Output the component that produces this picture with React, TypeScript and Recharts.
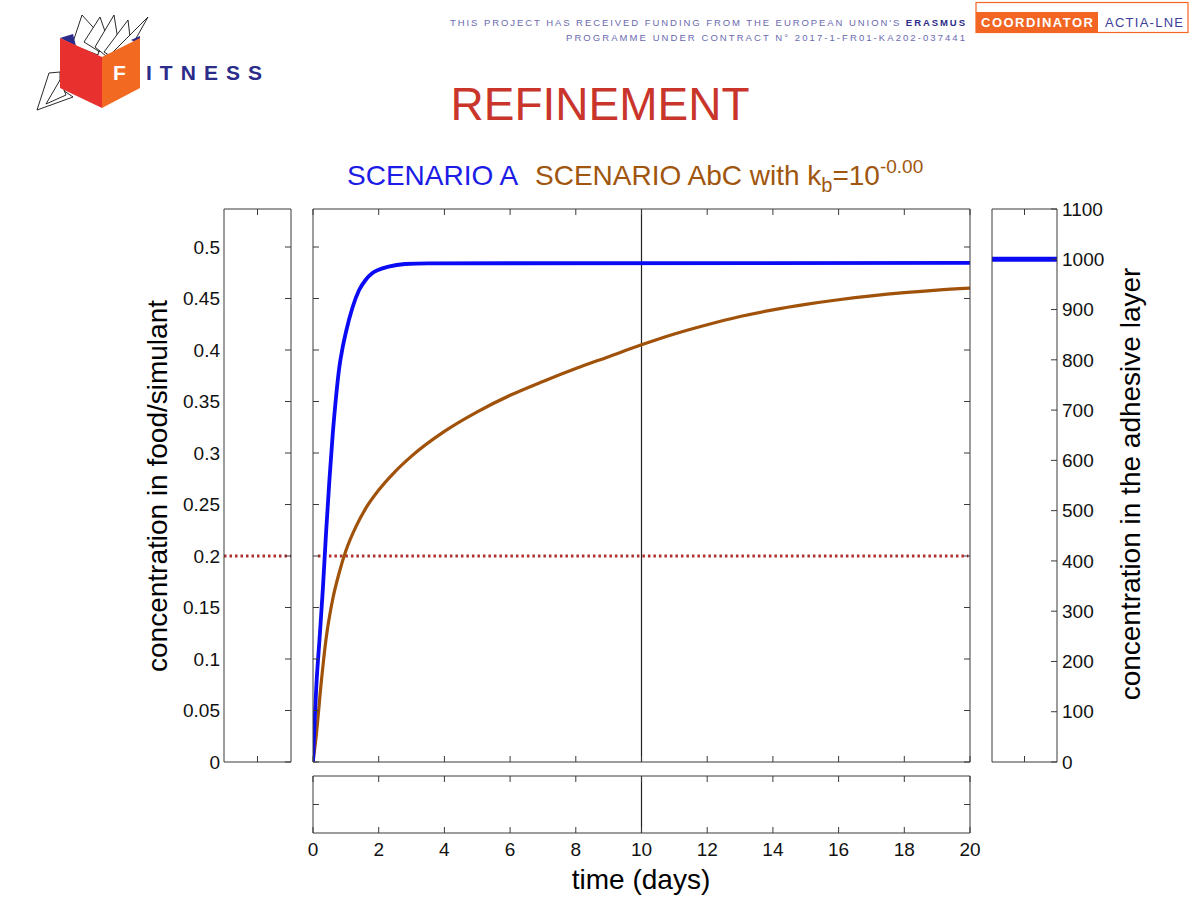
import React from 'react';
import { LineChart, Line, XAxis, YAxis, ReferenceLine } from 'recharts';

const FONT = '"Liberation Sans", Arial, Helvetica, sans-serif';
const FRAME = '#3a3a3a';

// ---- tick labels / axis ranges ----
const timeTicks = [0, 2, 4, 6, 8, 10, 12, 14, 16, 18, 20];
const foodTicks = [0, 0.05, 0.1, 0.15, 0.2, 0.25, 0.3, 0.35, 0.4, 0.45, 0.5];
const layerTicks = [0, 100, 200, 300, 400, 500, 600, 700, 800, 900, 1000, 1100];
const centerTick = [0.5];
const TIME_DOMAIN: [number, number] = [0, 20];
const FOOD_DOMAIN: [number, number] = [0, 0.5369];
const LAYER_DOMAIN: [number, number] = [0, 1100];
const UNIT_DOMAIN: [number, number] = [0, 1];

// ---- values ----
const CUT_TIME = 10;
const THRESHOLD = 0.2;
const LAYER_LEVEL_A = 1000;

// Scenario A (blue)
const timeA = [0, 0.05, 0.1, 0.2, 0.3, 0.4, 0.5, 0.6, 0.7, 0.8, 0.9, 1.0, 1.2, 1.4, 1.6, 1.8, 2.0, 2.3, 2.8, 3.5, 20];
const foodA = [0, 0.04, 0.073, 0.12, 0.168, 0.224, 0.274, 0.318, 0.354, 0.383, 0.402, 0.417, 0.441, 0.458, 0.468, 0.4745, 0.478, 0.481, 0.4835, 0.4842, 0.4845];

// Scenario AbC (brown)
const timeAbC = [0, 0.1, 0.25, 0.4, 0.6, 0.8, 1.0, 1.3, 1.6, 2.0, 2.5, 3.0, 4.0, 5.0, 6.0, 7.0, 8.0, 9.0, 10, 11, 12, 13, 14, 15, 16, 17, 18, 19, 20];
const foodAbC = [0, 0.026, 0.077, 0.12, 0.158, 0.184, 0.205, 0.228, 0.246, 0.264, 0.282, 0.297, 0.321, 0.34, 0.356, 0.3695, 0.382, 0.3935, 0.405, 0.4155, 0.4245, 0.4325, 0.439, 0.4443, 0.4488, 0.4526, 0.4557, 0.4582, 0.46];

const thresholdTimes = [0.15, 19.95];
const panelPositions = [0, 1];

const seriesA = timeA.map((t, i) => ({ t, v: foodA[i] }));
const seriesAbC = timeAbC.map((t, i) => ({ t, v: foodAbC[i] }));
const thresholdMain = thresholdTimes.map((t) => ({ t, v: THRESHOLD }));
const thresholdPanel = panelPositions.map((t) => ({ t, v: THRESHOLD }));
const layerPanel = panelPositions.map((t) => ({ t, v: LAYER_LEVEL_A }));
const emptyTime = TIME_DOMAIN.map((t) => ({ t }));

const tickText = { fontSize: 19, fill: '#111', fontFamily: FONT };
const hiddenText = { fontSize: 1, fill: 'none' };
const blank = () => '';

function frameX(id: string, orientation: 'top' | 'bottom', ticks: number[], domain: [number, number]) {
  return (
    <XAxis
      key={id}
      xAxisId={id}
      dataKey="t"
      orientation={orientation}
      type="number"
      domain={domain}
      ticks={ticks}
      interval={0}
      allowDataOverflow
      mirror
      height={1}
      tick={hiddenText}
      tickFormatter={blank}
      tickSize={6}
      tickLine={{ stroke: FRAME }}
      axisLine={{ stroke: FRAME }}
    />
  );
}

function frameY(id: string, orientation: 'left' | 'right', ticks: number[], domain: [number, number]) {
  return (
    <YAxis
      key={id}
      yAxisId={id}
      orientation={orientation}
      type="number"
      domain={domain}
      ticks={ticks}
      interval={0}
      allowDataOverflow
      mirror
      width={1}
      tick={hiddenText}
      tickFormatter={blank}
      tickSize={6}
      tickLine={{ stroke: FRAME }}
      axisLine={{ stroke: FRAME }}
    />
  );
}

function Slide() {
  return (
    <svg width={1200} height={900} style={{ position: 'absolute', left: 0, top: 0 }} fontFamily={FONT}>
      {/* logo */}
      <g stroke="#111" strokeWidth={0.9} fill="#fff" strokeLinejoin="round">
        <polygon points="60,72 49,73 37,110 73,97 60,88" />
        <polygon points="60,80 46,104 66,95" />
        <polygon points="72,45 82,15 101,36 98,55" />
        <polygon points="84,42 100,17 108,40 100,52" />
        <polygon points="95,47 114,15 118,40 106,56" />
        <polygon points="104,52 128,20 130,37 112,57" />
        <polygon points="110,55 148,17 134,42 120,55" />
      </g>
      <polygon points="60,38 73,34 76,46" fill="#2b2b8a" />
      <polygon points="131,40 140,36 140,44" fill="#2b2b8a" />
      <polygon points="60,38 102,57 102,108 60,88" fill="#e8312f" />
      <polygon points="102,57 140,38 140,88 102,108" fill="#f26a21" />
      <text x={113} y={80} fontSize={21} fontWeight="bold" fill="#fff">F</text>
      <text x={146} y={80} fontSize={21} fontWeight="bold" fill="#2b2b8a" textLength={116} lengthAdjust="spacing">ITNESS</text>

      {/* header */}
      <text x={965} y={26} fontSize={9.5} fill="#6a6ab0" textAnchor="end" textLength={515} lengthAdjust="spacing">
        THIS PROJECT HAS RECEIVED FUNDING FROM THE EUROPEAN UNION'S <tspan fontWeight="bold" fill="#2b2b8a">ERASMUS</tspan>
      </text>
      <text x={965} y={41} fontSize={9.5} fill="#6a6ab0" textAnchor="end" textLength={399} lengthAdjust="spacing">
        PROGRAMME UNDER CONTRACT N° 2017-1-FR01-KA202-037441
      </text>
      <rect x={976} y={2.5} width={212} height={30} fill="#fff" stroke="#f26522" strokeWidth={1.2} />
      <rect x={976} y={12} width={122} height={20.5} fill="#f26522" />
      <text x={981} y={27} fontSize={13} fontWeight="bold" fill="#fff" textLength={112} lengthAdjust="spacing">COORDINATOR</text>
      <text x={1105} y={27} fontSize={13} fill="#3d3d9e" textLength={78} lengthAdjust="spacing">ACTIA-LNE</text>

      {/* titles */}
      <text x={600} y={120} fontSize={46} fill="#c9352b" textAnchor="middle">REFINEMENT</text>
      <text x={347} y={185} fontSize={28} fill="#1c1ce6">SCENARIO A</text>
      <text x={535} y={185} fontSize={28} fill="#a0560e">
        SCENARIO AbC with k<tspan fontSize={20} dy={7}>b</tspan>
        <tspan dy={-7}>=10</tspan>
        <tspan fontSize={19} dy={-12}>-0.00</tspan>
      </text>

      {/* axis titles */}
      <text x={0} y={0} fontSize={28} fill="#000" textAnchor="middle" dominantBaseline="central" transform="translate(157,486) rotate(-90)">
        concentration in food/simulant
      </text>
      <text x={0} y={0} fontSize={28} fill="#000" textAnchor="middle" dominantBaseline="central" transform="translate(1130,484) rotate(-90)">
        concentration in the adhesive layer
      </text>
      <text x={641} y={889} fontSize={28} fill="#000" textAnchor="middle">time (days)</text>
    </svg>
  );
}

export default function App() {
  return (
    <div style={{ position: 'absolute', left: 0, top: 0, width: 1200, height: 900, background: '#fff', overflow: 'hidden' }}>
      <Slide />

      {/* left panel */}
      <div style={{ position: 'absolute', left: 170, top: 199 }}>
        <LineChart width={126} height={573} margin={{ top: 10, right: 5, bottom: 10, left: 0 }}>
          {frameX('lb', 'bottom', centerTick, UNIT_DOMAIN)}
          {frameX('lt', 'top', centerTick, UNIT_DOMAIN)}
          <YAxis
            yAxisId="ll"
            orientation="left"
            type="number"
            domain={FOOD_DOMAIN}
            ticks={foodTicks}
            interval={0}
            allowDataOverflow
            width={54}
            tickSize={0}
            tickMargin={4}
            tickLine={false}
            axisLine={{ stroke: FRAME }}
            tick={tickText}
          />
          {frameY('lr', 'right', foodTicks, FOOD_DOMAIN)}
          <Line xAxisId="lb" yAxisId="ll" data={thresholdPanel} dataKey="v" stroke="#b03030" strokeWidth={3} strokeDasharray="2.5 3" dot={false} isAnimationActive={false} />
        </LineChart>
      </div>

      {/* main plot */}
      <div style={{ position: 'absolute', left: 303, top: 199 }}>
        <LineChart width={677} height={573} margin={{ top: 10, right: 10, bottom: 10, left: 10 }}>
          {frameX('mb', 'bottom', timeTicks, TIME_DOMAIN)}
          {frameX('mt', 'top', timeTicks, TIME_DOMAIN)}
          {frameY('ml', 'left', foodTicks, FOOD_DOMAIN)}
          {frameY('mr', 'right', foodTicks, FOOD_DOMAIN)}
          <ReferenceLine xAxisId="mb" yAxisId="ml" x={CUT_TIME} stroke="#222" strokeWidth={1.2} />
          <Line xAxisId="mb" yAxisId="ml" data={thresholdMain} dataKey="v" stroke="#b03030" strokeWidth={3} strokeDasharray="2.5 3" dot={false} isAnimationActive={false} />
          <Line xAxisId="mb" yAxisId="ml" data={seriesAbC} dataKey="v" type="monotone" stroke="#a0520a" strokeWidth={3.2} dot={false} isAnimationActive={false} />
          <Line xAxisId="mb" yAxisId="ml" data={seriesA} dataKey="v" type="monotone" stroke="#0a0af5" strokeWidth={3.8} dot={false} isAnimationActive={false} />
        </LineChart>
      </div>

      {/* right panel */}
      <div style={{ position: 'absolute', left: 987, top: 199 }}>
        <LineChart width={125} height={573} margin={{ top: 10, right: 0, bottom: 10, left: 5 }}>
          {frameX('rb', 'bottom', centerTick, UNIT_DOMAIN)}
          {frameX('rt', 'top', centerTick, UNIT_DOMAIN)}
          {frameY('rl', 'left', [], LAYER_DOMAIN)}
          {frameY('rm', 'right', layerTicks, LAYER_DOMAIN)}
          <YAxis
            yAxisId="rr"
            orientation="right"
            type="number"
            domain={LAYER_DOMAIN}
            ticks={layerTicks}
            interval={0}
            allowDataOverflow
            width={55}
            tickSize={0}
            tickMargin={5}
            tickLine={false}
            axisLine={false}
            tick={tickText}
          />
          <Line xAxisId="rb" yAxisId="rr" data={layerPanel} dataKey="v" stroke="#0a0af5" strokeWidth={5} dot={false} isAnimationActive={false} />
        </LineChart>
      </div>

      {/* bottom panel */}
      <div style={{ position: 'absolute', left: 293, top: 766 }}>
        <LineChart width={697} height={107} data={emptyTime} margin={{ top: 10, right: 20, bottom: 0, left: 20 }}>
          {frameX('bt', 'top', timeTicks, TIME_DOMAIN)}
          {frameX('bm', 'bottom', timeTicks, TIME_DOMAIN)}
          <XAxis
            xAxisId="bb"
            dataKey="t"
            orientation="bottom"
            type="number"
            domain={TIME_DOMAIN}
            ticks={timeTicks}
            interval={0}
            allowDataOverflow
            height={40}
            tickSize={0}
            tickMargin={10}
            tickLine={false}
            axisLine={false}
            tick={tickText}
          />
          {frameY('bl', 'left', centerTick, UNIT_DOMAIN)}
          {frameY('br', 'right', centerTick, UNIT_DOMAIN)}
          <ReferenceLine xAxisId="bb" yAxisId="bl" x={CUT_TIME} stroke="#222" strokeWidth={1.2} />
        </LineChart>
      </div>
    </div>
  );
}
